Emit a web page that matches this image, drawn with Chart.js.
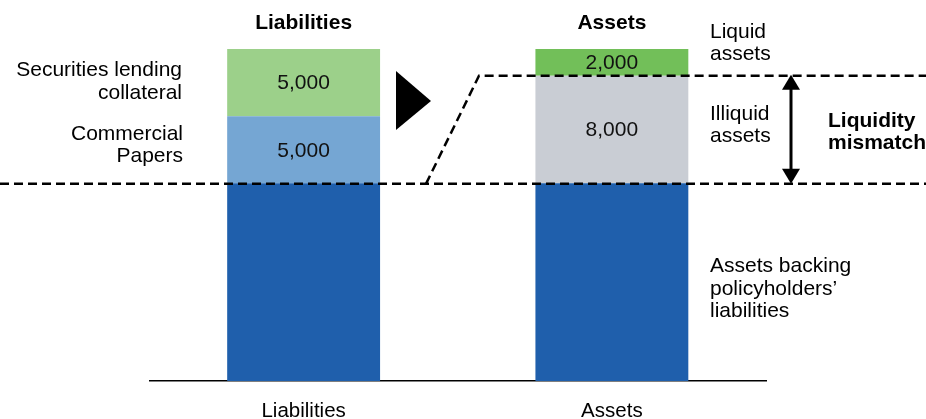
<!DOCTYPE html>
<html>
<head>
<meta charset="utf-8">
<script src="https://cdn.jsdelivr.net/npm/chart.js@4.4.1/dist/chart.umd.min.js"></script>
<style>
  html, body { margin: 0; padding: 0; background: #fff; overflow: hidden; }
</style>
</head>
<body>
<canvas id="liqChart" width="926" height="419"></canvas>
<script>
// chart values
const categories = ["Liabilities", "Assets"];
const backingValues = [14700, 14700];
const commercialPapers = [5000, null];
const secLending = [5000, null];
const illiquidAssets = [null, 8000];
const liquidAssets = [null, 2000];
const yMax = 27000;

const FONT = "'Liberation Sans', Arial, Helvetica, sans-serif";

function fmt(v) {
  return v.toLocaleString("en-US");
}

function drawLines(ctx, lines, x, y0, step, align, bold) {
  ctx.font = (bold ? "bold 21px " : "21px ") + FONT;
  ctx.textAlign = align;
  ctx.textBaseline = "alphabetic";
  ctx.fillStyle = "#000";
  lines.forEach((t, i) => ctx.fillText(t, x, y0 + i * step));
}

// titles, values, dashed lines, arrows and side notes
const annotate = {
  id: "annotate",
  afterDatasetsDraw(chart) {
    const ctx = chart.ctx;
    const xs = chart.scales.x;
    const ys = chart.scales.y;
    ctx.save();

    // segment values
    ctx.font = "21px " + FONT;
    ctx.textAlign = "center";
    ctx.textBaseline = "middle";
    ctx.fillStyle = "#111";
    chart.data.datasets.forEach((ds, di) => {
      if (di === 0) return;
      chart.getDatasetMeta(di).data.forEach((bar, i) => {
        const v = ds.data[i];
        if (v == null) return;
        ctx.fillText(fmt(v), bar.x, (bar.y + bar.base) / 2 + 1);
      });
    });

    // bold headers over bars
    ctx.font = "bold 21px " + FONT;
    ctx.textBaseline = "alphabetic";
    ctx.fillStyle = "#000";
    categories.forEach((c, i) => ctx.fillText(c, xs.getPixelForValue(i), 29));

    // dashed lines
    const yLow = ys.getPixelForValue(backingValues[1]) + 0.5;
    const yHigh = ys.getPixelForValue(backingValues[1] + illiquidAssets[1]);
    ctx.strokeStyle = "#000";
    ctx.lineWidth = 2.5;
    ctx.setLineDash([9, 5]);
    ctx.beginPath();
    ctx.moveTo(0, yLow);
    ctx.lineTo(chart.width, yLow);
    ctx.stroke();
    ctx.beginPath();
    ctx.moveTo(426, yLow);
    ctx.lineTo(479, yHigh);
    ctx.lineTo(chart.width, yHigh);
    ctx.stroke();
    ctx.setLineDash([]);

    // play triangle
    ctx.fillStyle = "#000";
    ctx.beginPath();
    ctx.moveTo(396, 71);
    ctx.lineTo(431, 101);
    ctx.lineTo(396, 130);
    ctx.closePath();
    ctx.fill();

    // double arrow for the mismatch
    const ax = 791;
    ctx.lineWidth = 3;
    ctx.beginPath();
    ctx.moveTo(ax, yHigh + 12);
    ctx.lineTo(ax, yLow - 12);
    ctx.stroke();
    ctx.beginPath();
    ctx.moveTo(ax, yHigh - 1);
    ctx.lineTo(ax - 9, yHigh + 14);
    ctx.lineTo(ax + 9, yHigh + 14);
    ctx.closePath();
    ctx.fill();
    ctx.beginPath();
    ctx.moveTo(ax, yLow);
    ctx.lineTo(ax - 9, yLow - 15);
    ctx.lineTo(ax + 9, yLow - 15);
    ctx.closePath();
    ctx.fill();

    // side notes
    drawLines(ctx, ["Securities lending", "collateral"], 182, 76, 22.5, "right");
    drawLines(ctx, ["Commercial", "Papers"], 183, 139.5, 22.5, "right");
    drawLines(ctx, ["Liquid", "assets"], 710, 38, 22, "left");
    drawLines(ctx, ["Illiquid", "assets"], 710, 120, 22, "left");
    drawLines(ctx, ["Assets backing", "policyholders\u2019", "liabilities"], 710, 272, 22.5, "left");
    drawLines(ctx, ["Liquidity", "mismatch"], 828, 127, 21.5, "left", true);

    ctx.restore();
  }
};

new Chart(document.getElementById("liqChart"), {
  type: "bar",
  data: {
    labels: categories,
    datasets: [
      { label: "Assets backing policyholders' liabilities", data: backingValues, backgroundColor: "#1F5FAC" },
      { label: "Commercial Papers", data: commercialPapers, backgroundColor: "#75A6D3" },
      { label: "Securities lending collateral", data: secLending, backgroundColor: "#9CD08A" },
      { label: "Illiquid assets", data: illiquidAssets, backgroundColor: "#C9CDD4" },
      { label: "Liquid assets", data: liquidAssets, backgroundColor: "#72BF59" }
    ]
  },
  options: {
    responsive: false,
    animation: false,
    devicePixelRatio: 1,
    layout: { padding: { left: 149.5, right: 160, top: 18, bottom: 0 } },
    datasets: {
      bar: { categoryPercentage: 1, barPercentage: 0.496, borderWidth: 0 }
    },
    plugins: {
      legend: { display: false },
      tooltip: { enabled: false }
    },
    scales: {
      x: {
        stacked: true,
        grid: { display: false, drawTicks: false },
        border: { display: true, color: "#000", width: 1.5 },
        ticks: { color: "#000", font: { family: FONT, size: 20.5 }, padding: 18 },
        afterFit(scale) { scale.height = 38; }
      },
      y: {
        stacked: true,
        display: false,
        min: 0,
        max: yMax
      }
    }
  },
  plugins: [annotate]
});
</script>
</body>
</html>
